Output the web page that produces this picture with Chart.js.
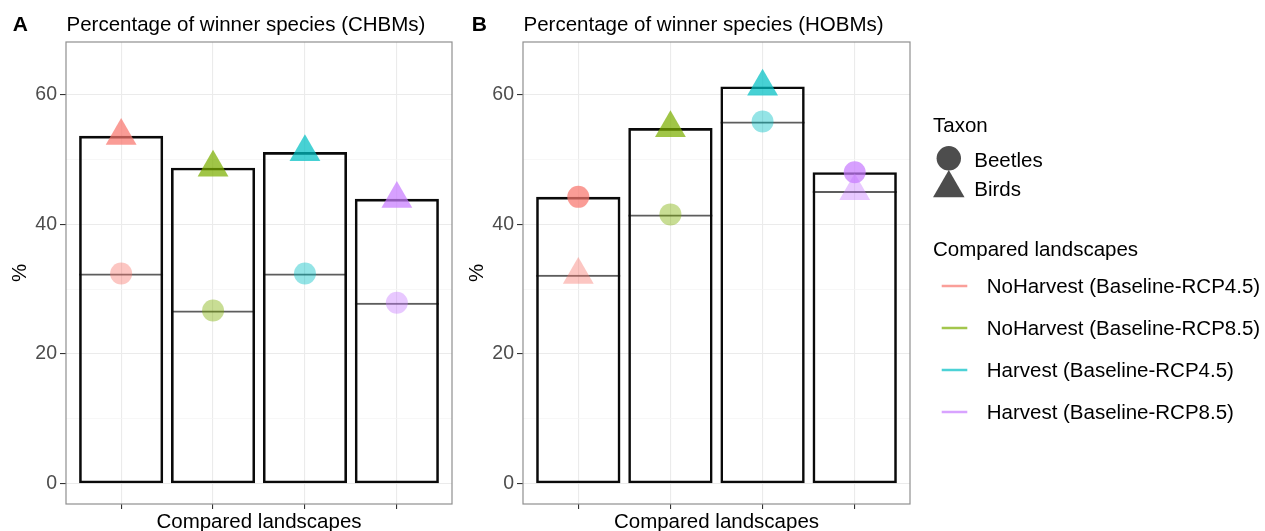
<!DOCTYPE html>
<html>
<head>
<meta charset="utf-8">
<script src="https://cdn.jsdelivr.net/npm/chart.js@4.4.1/dist/chart.umd.min.js"></script>
<style>
  html, body { margin: 0; padding: 0; background: #fff; }
  #wrap { position: relative; width: 1265px; height: 531px; overflow: hidden; }
  #wrap canvas { position: absolute; top: 0; }
  #panelA { left: 0; }
  #panelB { left: 457px; }
</style>
</head>
<body>
<div id="wrap">
  <canvas id="panelA" width="460" height="531"></canvas>
  <canvas id="panelB" width="808" height="531"></canvas>
</div>
<script>
// data
const categories = ["NoHarvest (Baseline-RCP4.5)", "NoHarvest (Baseline-RCP8.5)", "Harvest (Baseline-RCP4.5)", "Harvest (Baseline-RCP8.5)"];
const landscapeColors = ["#F8766D", "#7CAE00", "#00BFC4", "#C77CFF"];
const taxa = ["Beetles", "Birds"];
const yTickLabels = [0, 20, 40, 60];
const yMinorGrid = [10, 30, 50];

const beetlesCHBM = [32.4, 26.7, 32.4, 27.9];
const birdsCHBM = [53.6, 48.7, 51.1, 43.9];
const beetlesHOBM = [44.2, 41.5, 55.8, 48.0];
const birdsHOBM = [32.2, 54.8, 61.2, 45.1];

const FONT = "'Liberation Sans', Arial, Helvetica, sans-serif";
Chart.defaults.font.family = FONT;

function rgba(hex, a) {
  const n = parseInt(hex.slice(1), 16);
  return `rgba(${(n >> 16) & 255},${(n >> 8) & 255},${n & 255},${a})`;
}

// grey frame around the plot area (theme_bw)
const panelBorder = {
  id: "panelBorder",
  afterDraw(chart) {
    const { ctx, chartArea: a } = chart;
    ctx.save();
    ctx.strokeStyle = "#8F8F8F";
    ctx.lineWidth = 1.2;
    ctx.strokeRect(a.left, a.top, a.right - a.left, a.bottom - a.top);
    ctx.restore();
  }
};

// tag letter + panel title
const heading = {
  id: "heading",
  afterDraw(chart, args, opts) {
    const ctx = chart.ctx;
    ctx.save();
    ctx.fillStyle = "#000";
    ctx.textBaseline = "alphabetic";
    ctx.font = "bold 21px " + FONT;
    ctx.fillText(opts.tag, opts.tagX, 31);
    ctx.font = "20.5px " + FONT;
    ctx.fillText(opts.text, chart.chartArea.left + 0.5, 31);
    ctx.restore();
  }
};

// the two ggplot legends to the right of panel B
const sideLegend = {
  id: "sideLegend",
  afterDraw(chart, args, opts) {
    if (!opts.show) return;
    const ctx = chart.ctx;
    const x0 = opts.x;
    ctx.save();
    ctx.fillStyle = "#000";
    ctx.font = "20.5px " + FONT;
    ctx.fillText("Taxon", x0, 131.7);
    // key shapes
    ctx.fillStyle = "#4D4D4D";
    ctx.beginPath();
    ctx.arc(x0 + 15.8, 158.3, 12.2, 0, Math.PI * 2);
    ctx.fill();
    const r = 18.2, cy = 188.2, cx = x0 + 15.8;
    ctx.beginPath();
    ctx.moveTo(cx, cy - r);
    ctx.lineTo(cx + r * Math.sqrt(3) / 2, cy + r / 2);
    ctx.lineTo(cx - r * Math.sqrt(3) / 2, cy + r / 2);
    ctx.closePath();
    ctx.fill();
    ctx.fillStyle = "#000";
    ctx.fillText(taxa[0], x0 + 41.3, 167.3);
    ctx.fillText(taxa[1], x0 + 41.3, 195.7);

    ctx.fillText("Compared landscapes", x0, 256);
    categories.forEach((c, i) => {
      const y = 286 + 42 * i;
      ctx.strokeStyle = rgba(landscapeColors[i], 0.7);
      ctx.lineWidth = 2.5;
      ctx.beginPath();
      ctx.moveTo(x0 + 8.7, y);
      ctx.lineTo(x0 + 34.3, y);
      ctx.stroke();
      ctx.fillStyle = "#000";
      ctx.fillText(c, x0 + 53.7, y + 7.3);
    });
    ctx.restore();
  }
};

function makePanel(id, tag, tagX, title, beetles, birds, padRight, legend) {
  const xs = categories.map((c, i) => i + 1);
  const hi = beetles.map((b, i) => Math.max(b, birds[i]));
  const lo = beetles.map((b, i) => Math.min(b, birds[i]));
  // the larger of the two taxa is drawn more opaque
  const fills = (vals, other) => vals.map((v, i) => rgba(landscapeColors[i], v >= other[i] ? 0.72 : 0.42));
  const pts = vals => xs.map((x, i) => ({ x: x, y: vals[i] }));

  return new Chart(document.getElementById(id), {
    type: "bar",
    data: {
      datasets: [
        {
          type: "line", label: taxa[0], data: pts(beetles), showLine: false,
          pointStyle: "circle", pointRadius: 11, pointHoverRadius: 11, pointBorderWidth: 0,
          pointBackgroundColor: fills(beetles, birds), order: 0
        },
        {
          type: "line", label: taxa[1], data: pts(birds), showLine: false,
          pointStyle: "triangle", pointRadius: 17.8, pointHoverRadius: 17.8, pointBorderWidth: 0,
          pointBackgroundColor: fills(birds, beetles), order: 0
        },
        {
          label: "max", data: pts(hi), backgroundColor: "transparent", borderColor: "#0A0A0A",
          borderWidth: 2.6, borderSkipped: false, grouped: false,
          barPercentage: 0.915, categoryPercentage: 1, order: 1
        },
        {
          label: "min", data: pts(lo), backgroundColor: "transparent", borderColor: "rgba(75,75,75,0.9)",
          borderWidth: { top: 2, right: 0, bottom: 0, left: 0 }, borderSkipped: false, grouped: false,
          barPercentage: 0.915, categoryPercentage: 1, order: 2
        }
      ]
    },
    options: {
      responsive: false,
      animation: false,
      events: [],
      layout: { autoPadding: false, padding: { top: 42, right: padRight, bottom: 0, left: 0 } },
      plugins: {
        legend: { display: false },
        tooltip: { enabled: false },
        heading: { tag: tag, tagX: tagX, text: title },
        sideLegend: legend
      },
      scales: {
        x: {
          type: "linear", min: 0.4, max: 4.6, offset: false,
          afterBuildTicks: s => { s.ticks = xs.map(v => ({ value: v })); },
          afterFit: s => { s.height = 27; },
          ticks: { display: false },
          grid: { offset: false, color: "#EBEBEB", lineWidth: 1.1, tickLength: 5, tickColor: "#333", tickWidth: 1.1 },
          border: { display: false },
          title: {
            display: true, text: "Compared landscapes", color: "#000",
            font: { size: 20.5, lineHeight: 0.82 }, padding: 0
          }
        },
        y: {
          type: "linear", min: -3.1, max: 68.05,
          afterBuildTicks: s => {
            s.ticks = yTickLabels.concat(yMinorGrid).sort((a, b) => a - b).map(v => ({ value: v }));
          },
          afterFit: s => { s.width = 66; },
          ticks: {
            callback: v => yTickLabels.includes(v) ? String(v) : "",
            color: "#4D4D4D", font: { size: 19.5 }, padding: 3
          },
          grid: {
            color: c => yTickLabels.includes(c.tick && c.tick.value) ? "#EBEBEB" : "#F3F3F3",
            lineWidth: c => yTickLabels.includes(c.tick && c.tick.value) ? 1.1 : 0.7,
            tickLength: 6,
            tickColor: c => yTickLabels.includes(c.tick && c.tick.value) ? "#333" : "transparent",
            tickWidth: 1.1
          },
          border: { display: false },
          title: {
            display: true, text: "%", color: "#000",
            font: { size: 20.5, lineHeight: 0.82 }, padding: { top: 11.6, bottom: 0 }
          }
        }
      }
    },
    plugins: [panelBorder, heading, sideLegend]
  });
}

makePanel("panelA", "A", 12.7, "Percentage of winner species (CHBMs)", beetlesCHBM, birdsCHBM, 8, { show: false });
makePanel("panelB", "B", 14.7, "Percentage of winner species (HOBMs)", beetlesHOBM, birdsHOBM, 355, { show: true, x: 476 });
</script>
</body>
</html>
